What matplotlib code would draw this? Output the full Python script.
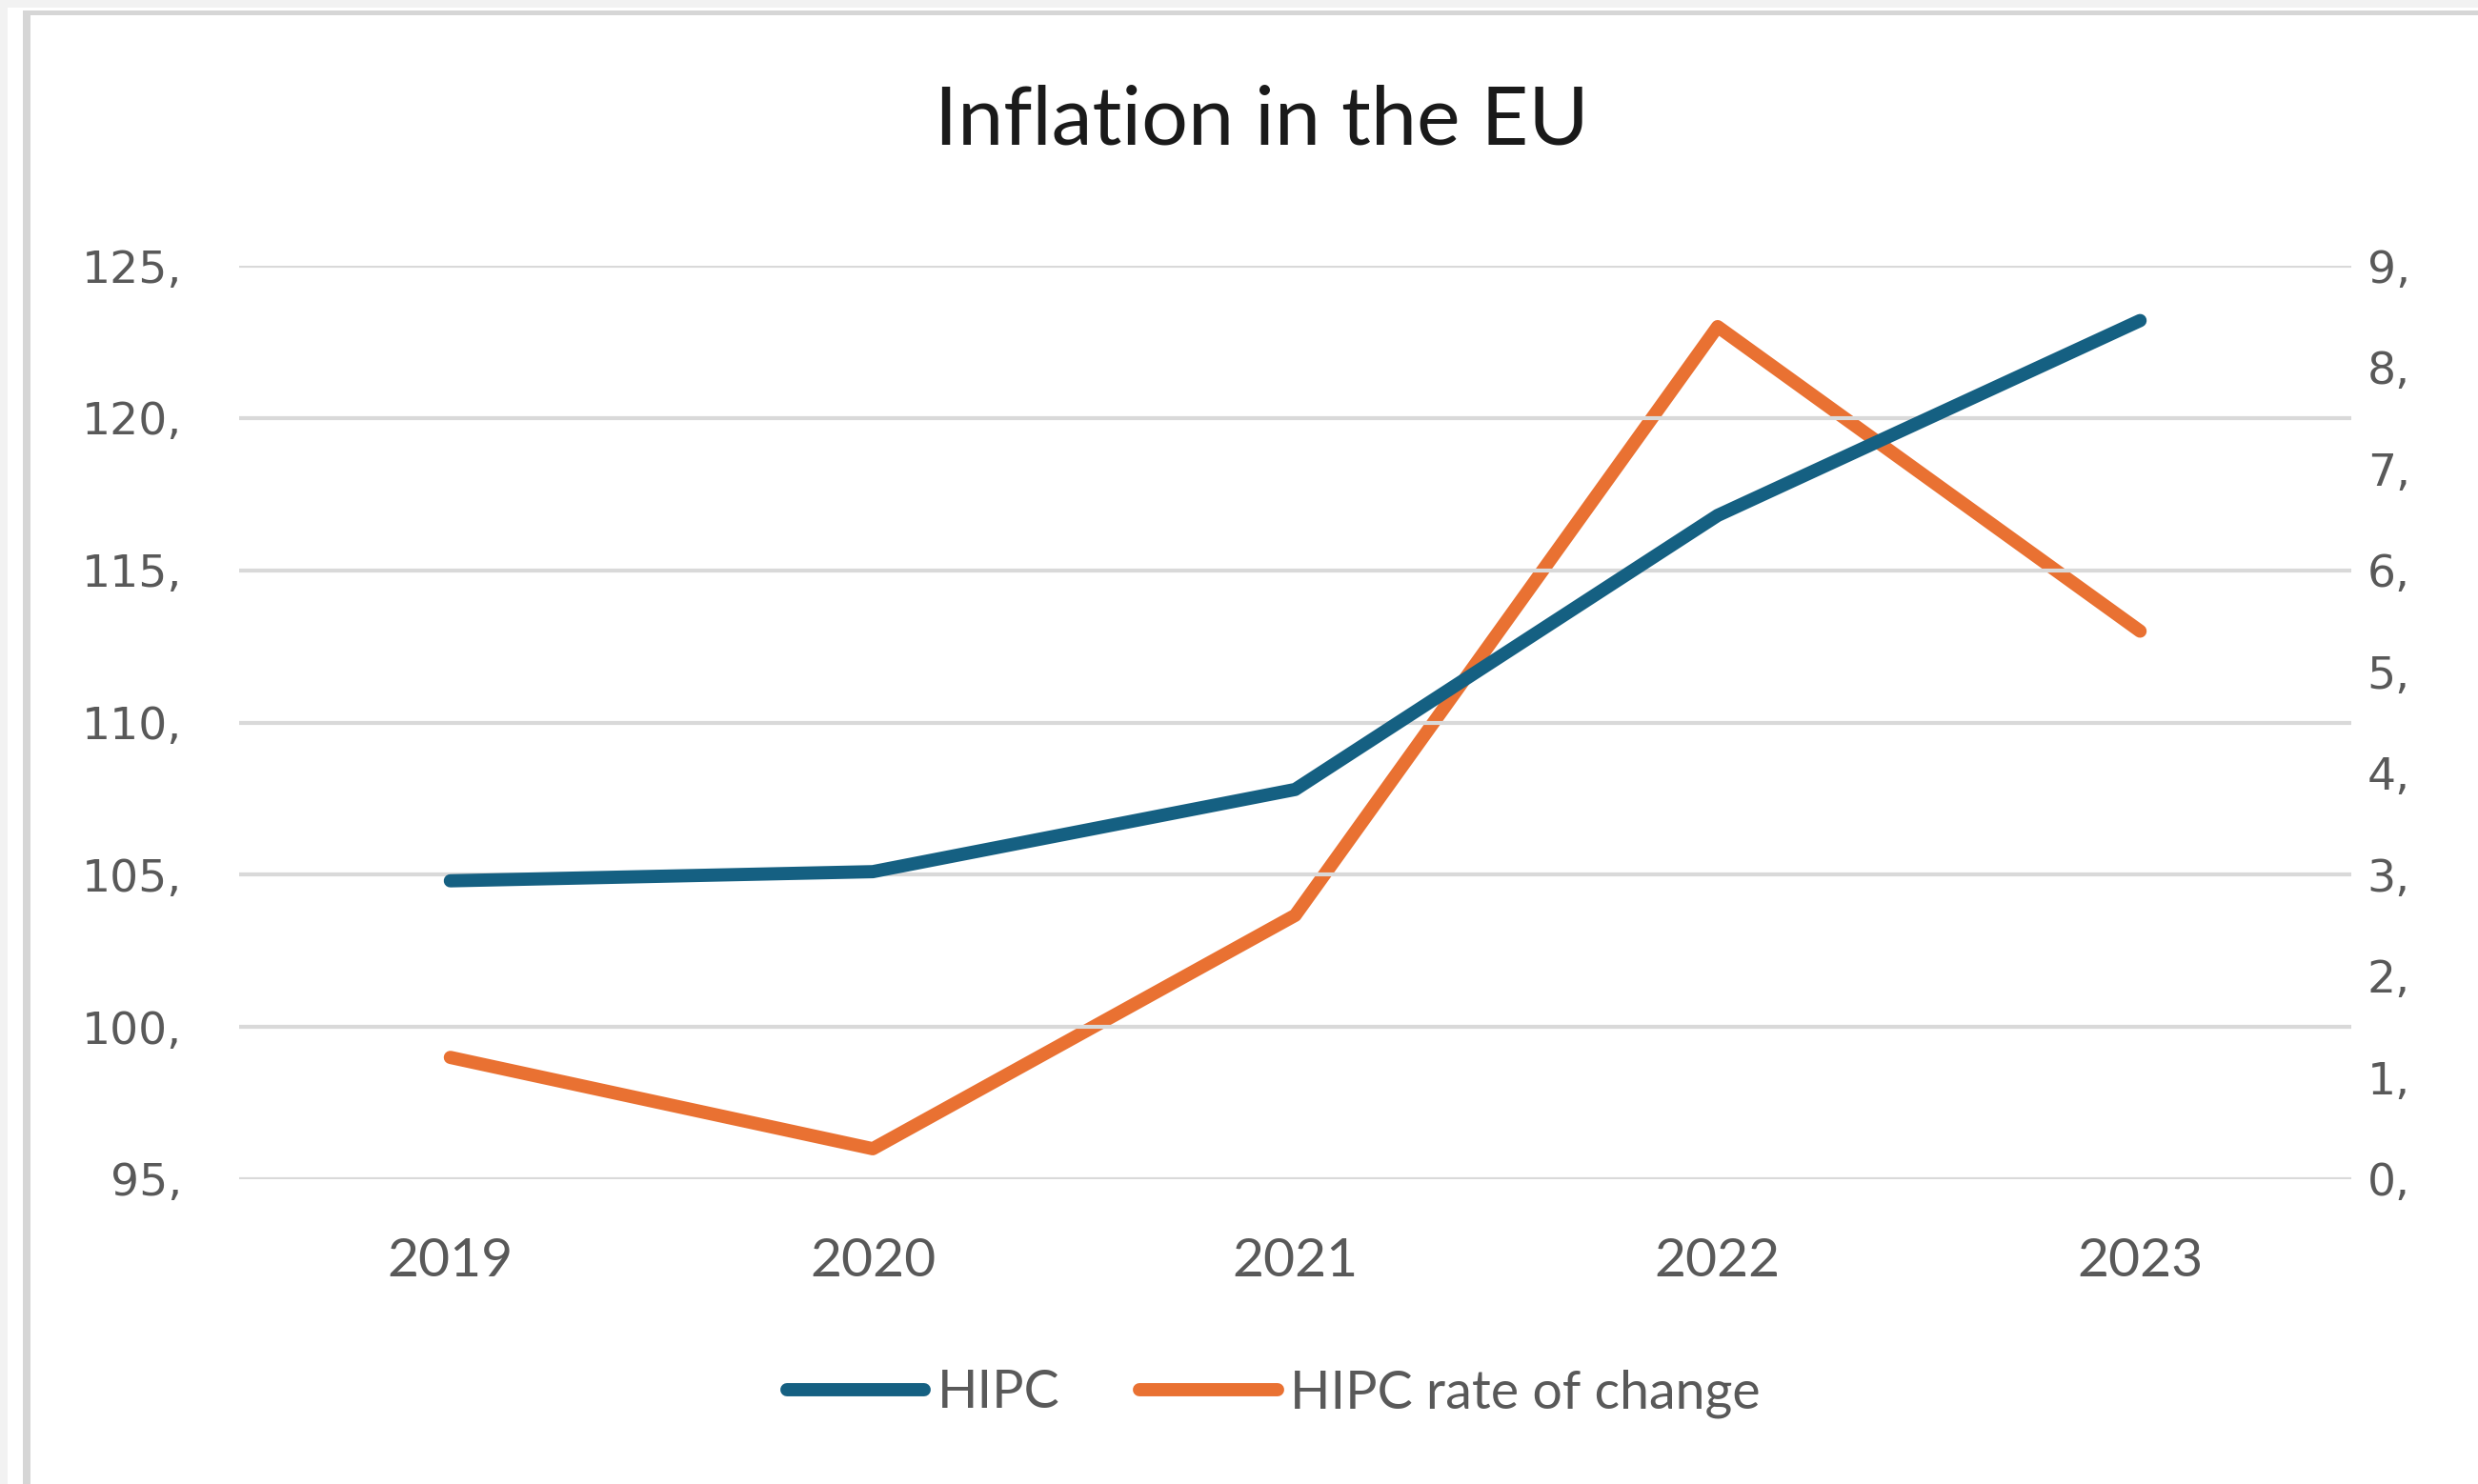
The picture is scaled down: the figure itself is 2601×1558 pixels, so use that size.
import matplotlib
matplotlib.use("Agg")
import matplotlib.pyplot as plt
from matplotlib.patches import Rectangle

years = ["2019", "2020", "2021", "2022", "2023"]
hipc = [104.8, 105.1, 107.8, 116.8, 123.2]
hipc_rate = [1.2, 0.3, 2.6, 8.4, 5.4]
left_ticks = [95, 100, 105, 110, 115, 120, 125]
left_labels = ["95,", "100,", "105,", "110,", "115,", "120,", "125,"]
right_ticks = list(range(0, 10))
right_labels = [f"{t}," for t in right_ticks]

BLUE = "#156082"
ORANGE = "#E97132"
GRID = "#d9d9d9"
TXT = "#595959"

W, H = 2601, 1558
fig = plt.figure(figsize=(W / 100, H / 100), dpi=100, facecolor="white")

# frame decorations
def px_rect(x0, y0, w, h, color):
    fig.patches.append(Rectangle((x0 / W, 1 - (y0 + h) / H), w / W, h / H,
                                 transform=fig.transFigure, facecolor=color,
                                 edgecolor="none", zorder=0))
px_rect(0, 0, W, 8, "#f2f2f2")
px_rect(0, 0, 8, H, "#f2f2f2")
px_rect(24, 11, W - 24, 5, "#d6d6d6")
px_rect(24, 11, 8, H - 11, "#d6d6d6")

left = 251 / W
right = 2468 / W
top = 1 - 279 / H
bottom = 1 - 1238 / H
ax = fig.add_axes([left, bottom, right - left, top - bottom])
ax2 = ax.twinx()

x = list(range(len(years)))
l1, = ax.plot(x, hipc, color=BLUE, lw=10, solid_capstyle="round", zorder=3, label="HIPC")
l2, = ax2.plot(x, hipc_rate, color=ORANGE, lw=10, solid_capstyle="round", zorder=3,
               label="HIPC rate of change")

ax.set_xlim(-0.5, len(years) - 0.5)
ax.set_ylim(95, 125)
ax2.set_ylim(0, 9)

ax.set_yticks(left_ticks)
ax.set_yticklabels(left_labels, fontfamily="DejaVu Sans", fontsize=34, color=TXT)
ax2.set_yticks(right_ticks)
ax2.set_yticklabels(right_labels, fontfamily="DejaVu Sans", fontsize=34, color=TXT)
ax.set_xticks(x)
ax.set_xticklabels(years, fontfamily="Lato", fontsize=41, color=TXT)

ax.tick_params(axis="y", length=0, pad=43)
ax2.tick_params(axis="y", length=0, pad=12)
ax.tick_params(axis="x", length=0, pad=44)

for a in (ax, ax2):
    for s in a.spines.values():
        s.set_visible(False)
    a.set_facecolor("none")

ax.grid(axis="y", color=GRID, lw=3)
ax.set_axisbelow(True)
ax.set_zorder(ax2.get_zorder() + 1)
ax.patch.set_visible(False)

fig.text(1324 / W, 1 - 128 / H, "Inflation in the EU", ha="center", va="center",
         fontfamily="Lato", fontsize=62, color="#1a1a1a")

leg = fig.legend([l1, l2], ["HIPC", "HIPC rate of change"], loc="center",
                 bbox_to_anchor=(0.514, 1 - 1463 / H), ncol=2, frameon=False,
                 prop={"family": "Lato", "size": 40}, handlelength=2.6,
                 handletextpad=0.25, columnspacing=1.5)
for t in leg.get_texts():
    t.set_color(TXT)
for h in leg.legend_handles:
    h.set_linewidth(10)
    h.set_solid_capstyle("round")

fig.savefig("out.png", dpi=100, facecolor="white")
